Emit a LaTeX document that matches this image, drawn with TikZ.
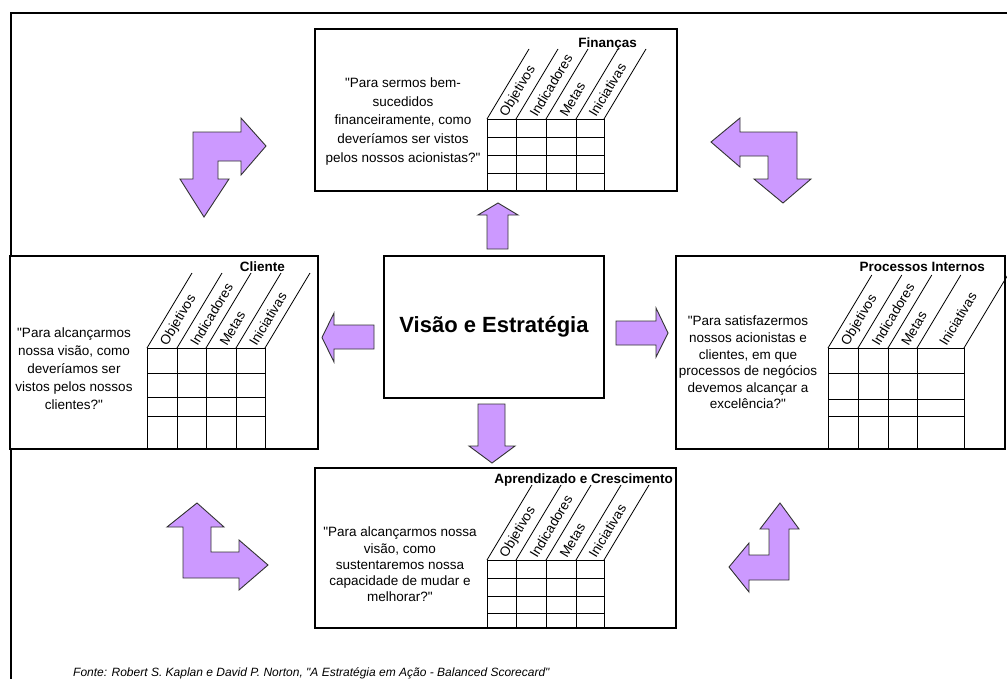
\documentclass[tikz,border=0pt]{standalone}
\usepackage{fontspec}
\setmainfont{Liberation Sans}[Ligatures=TeXOff]
\definecolor{arrowfill}{HTML}{CC99FF}
\definecolor{arrowline}{HTML}{333333}

% Scorecard table: #1-#5 column x, #6 grid top, #7 inner row y list,
% #8 grid bottom, #9 rise of the slanted header lines
\newcommand\bscTable[9]{%
  \draw[gridline] (#1,#6) rectangle (#5,#8);
  \foreach \cx in {#2,#3,#4} \draw[gridline] (\cx,#6) -- (\cx,#8);
  \foreach \ry in {#7} \draw[gridline] (#1,\ry) -- (#5,\ry);
  \foreach \cx in {#1,#2,#3,#4,#5} \draw[gridline] (\cx,#6) -- ++({0.6*#9},{-#9});
  \foreach \xa/\xb/\lbl in {#1/#2/Objetivos,#2/#3/Indicadores,#3/#4/Metas,#4/#5/Iniciativas}
    \node[collabel] (lbl-\xa-#6) at ({(\xa+\xb)/2+2},{#6-3.5}) {\lbl};
}

\begin{document}
\begin{tikzpicture}[x=1pt,y=-1pt,
  frame/.style={draw=black, line width=2.6pt},
  panel/.style={draw=black, line width=1.8pt, fill=white, outer sep=0pt,
                inner sep=0pt, anchor=north west},
  gridline/.style={draw=black, line width=0.8pt},
  blockarrow/.style={draw=arrowline, line width=0.9pt, fill=arrowfill, line join=miter},
  question/.style={align=center, inner sep=0pt},
  heading/.style={inner sep=0pt, anchor=base east,
                  font=\fontsize{13.5}{16}\selectfont\bfseries},
  collabel/.style={inner sep=0pt, anchor=west, rotate=59,
                   font=\fontsize{13.5}{15}\selectfont},
]
\useasboundingbox (0,0) rectangle (1007,678);
\fill[white] (0,0) rectangle (1007,678);

% outer frame
\draw[frame] (1012,13) -- (11,13) -- (11,690);

% perspective panels
\node[panel, minimum width=362pt, minimum height=162pt] (fin)  at (315,29)  {};
\node[panel, minimum width=308pt, minimum height=193pt] (cli)  at (10,256)  {};
\node[panel, minimum width=329pt, minimum height=193pt] (proc) at (676,256) {};
\node[panel, minimum width=361pt, minimum height=160pt] (apr)  at (315,468) {};
\node[panel, minimum width=220pt, minimum height=142pt] (vis)  at (384,256) {};

% tables
\bscTable{487}{516}{546}{576}{604}{119}{137,155,173}{191}{70}
\bscTable{147}{177}{206}{236}{265}{348}{373,397,416}{449}{75}
\bscTable{828}{858}{888}{917}{964}{348}{373,399,416}{449}{73}
\bscTable{487}{516}{546}{576}{604}{560}{578,596,613}{628}{75}

% headings
\node[heading] (finT)  at (637,47)  {Finanças};
\node[heading] (cliT)  at (285,271) {Cliente};
\node[heading] (procT) at (985,271) {Processos Internos};
\node[heading] (aprT)  at (673,483) {Aprendizado e Crescimento};

% questions
\node[question, font=\fontsize{13.5}{18.75}\selectfont] (finQ) at (403,121.5)
  {"Para sermos bem-\\sucedidos\\financeiramente, como\\deveríamos ser vistos\\pelos nossos acionistas?"};
\node[question, font=\fontsize{13.5}{18}\selectfont] (cliQ) at (74,369)
  {"Para alcançarmos\\nossa visão, como\\deveríamos ser\\vistos pelos nossos\\clientes?"};
\node[question, font=\fontsize{13.5}{16.6}\selectfont] (procQ) at (748,362.5)
  {"Para satisfazermos\\nossos acionistas e\\clientes, em que\\processos de negócios\\devemos alcançar a\\excelência?"};
\node[question, font=\fontsize{13.5}{16.2}\selectfont] (aprQ) at (400,564.5)
  {"Para alcançarmos nossa\\visão, como\\sustentaremos nossa\\capacidade de mudar e\\melhorar?"};

% centre
\node[inner sep=0pt, font=\fontsize{22}{26}\selectfont\bfseries] (visT) at (494,327)
  {Visão e Estratégia};

% straight block arrows from the centre
\draw[blockarrow] (487,249) -- (487,215) -- (478,215) -- (498,203) -- (518,215)
  -- (508,215) -- (508,249) -- cycle;
\draw[blockarrow] (374,325) -- (334,325) -- (334,313) -- (322,337.5) -- (334,362)
  -- (334,349) -- (374,349) -- cycle;
\draw[blockarrow] (616,321) -- (656,321) -- (656,308) -- (668,333) -- (656,357)
  -- (656,345) -- (616,345) -- cycle;
\draw[blockarrow] (478,404) -- (478,446) -- (469,446) -- (492,463) -- (515,446)
  -- (505,446) -- (505,404) -- cycle;

% bent block arrows in the corners
\draw[blockarrow] (193,132) -- (241,132) -- (241,118) -- (266,146) -- (241,175)
  -- (241,161) -- (218,161) -- (218,179) -- (229,179) -- (204,217) -- (180,179)
  -- (193,179) -- cycle;
\draw[blockarrow] (711,142) -- (740,118) -- (740,132) -- (797,132) -- (797,179)
  -- (811,179) -- (783,203) -- (754,179) -- (768,179) -- (768,156) -- (740,156)
  -- (740,167) -- cycle;
\draw[blockarrow] (197,503) -- (224,527) -- (211,527) -- (211,552) -- (239,552)
  -- (239,540) -- (268,565) -- (239,590) -- (239,578) -- (183,578) -- (183,527)
  -- (167,527) -- cycle;
\draw[blockarrow] (780,503) -- (799,529) -- (789,529) -- (789,580) -- (749,580)
  -- (749,592) -- (729,567) -- (749,543) -- (749,555) -- (769,555) -- (769,529)
  -- (760,529) -- cycle;

% source line
\node[inner sep=0pt, anchor=base west, font=\fontsize{12}{14}\selectfont\itshape]
  (src) at (73,676)
  {Fonte: Robert S. Kaplan e David P. Norton, "A Estratégia em Ação - Balanced Scorecard"};
\end{tikzpicture}
\end{document}
